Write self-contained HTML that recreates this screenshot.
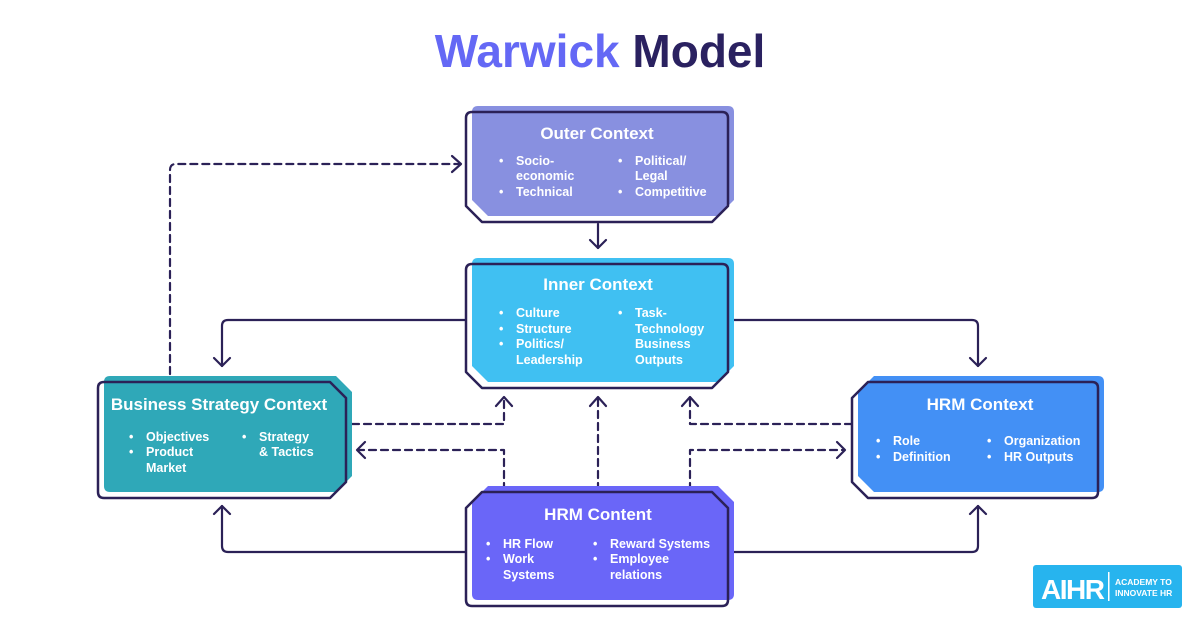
<!DOCTYPE html>
<html><head><meta charset="utf-8"><style>
html,body{margin:0;padding:0;background:#fff;}
svg{display:block;}
.t{font-family:"Liberation Sans",sans-serif;font-weight:bold;fill:#fff;font-size:17px;text-anchor:middle;}
.i{font-family:"Liberation Sans",sans-serif;fill:#fff;font-size:12.5px;font-weight:bold;}
</style></head><body>
<svg width="1200" height="627" viewBox="0 0 1200 627" xmlns="http://www.w3.org/2000/svg">
<text x="600" y="67" text-anchor="middle" font-family="Liberation Sans,sans-serif" font-weight="bold" font-size="46"><tspan fill="#6468f5">Warwick</tspan> <tspan fill="#2a2160">Model</tspan></text>

<g fill="none" stroke="#2b2157" stroke-width="2.2" stroke-linecap="round" stroke-linejoin="round">
<g stroke-dasharray="7,5">
<path d="M170,374 L170,170 Q170,164 176,164 L460,164"/>
<path d="M352,424 L504,424 L504,398"/>
<path d="M504,490 L504,450 L358,450"/>
<path d="M598,490 L598,398"/>
<path d="M690,490 L690,450 L844,450"/>
<path d="M852,424 L690,424 L690,398"/>
</g>
<path d="M452,156 L461,164 L452,172"/>
<path d="M496,406 L504,397 L512,406"/>
<path d="M590,406 L598,397 L606,406"/>
<path d="M682,406 L690,397 L698,406"/>
<path d="M365,442 L357,450 L365,458"/>
<path d="M837,442 L845,450 L837,458"/>
<path d="M598,224 L598,248"/><path d="M590,240 L598,248 L606,240"/>
<path d="M466,320 L228,320 Q222,320 222,326 L222,366"/><path d="M214,358 L222,366 L230,358"/>
<path d="M728,320 L972,320 Q978,320 978,326 L978,366"/><path d="M970,358 L978,366 L986,358"/>
<path d="M466,552 L228,552 Q222,552 222,546 L222,506"/><path d="M214,514 L222,506 L230,514"/>
<path d="M728,552 L972,552 Q978,552 978,546 L978,506"/><path d="M970,514 L978,506 L986,514"/>
</g>

<path d="M466,118 Q466,112 472,112 L722,112 Q728,112 728,118 L728,206 L712,222 L482,222 L466,206 Z" fill="#fff"/>
<path transform="translate(6,-6)" d="M466,118 Q466,112 472,112 L722,112 Q728,112 728,118 L728,206 L712,222 L482,222 L466,206 Z" fill="#8890e0"/>
<path d="M466,118 Q466,112 472,112 L722,112 Q728,112 728,118 L728,206 L712,222 L482,222 L466,206 Z" fill="none" stroke="#2b2157" stroke-width="2.5" stroke-linejoin="round"/>
<path d="M466,270 Q466,264 472,264 L722,264 Q728,264 728,270 L728,372 L712,388 L482,388 L466,372 Z" fill="#fff"/>
<path transform="translate(6,-6)" d="M466,270 Q466,264 472,264 L722,264 Q728,264 728,270 L728,372 L712,388 L482,388 L466,372 Z" fill="#40c0f2"/>
<path d="M466,270 Q466,264 472,264 L722,264 Q728,264 728,270 L728,372 L712,388 L482,388 L466,372 Z" fill="none" stroke="#2b2157" stroke-width="2.5" stroke-linejoin="round"/>
<path d="M98,388 Q98,382 104,382 L330,382 L346,398 L346,482 L330,498 L104,498 Q98,498 98,492 Z" fill="#fff"/>
<path transform="translate(6,-6)" d="M98,388 Q98,382 104,382 L330,382 L346,398 L346,482 L330,498 L104,498 Q98,498 98,492 Z" fill="#2fa8b8"/>
<path d="M98,388 Q98,382 104,382 L330,382 L346,398 L346,482 L330,498 L104,498 Q98,498 98,492 Z" fill="none" stroke="#2b2157" stroke-width="2.5" stroke-linejoin="round"/>
<path d="M868,382 L1092,382 Q1098,382 1098,388 L1098,492 Q1098,498 1092,498 L868,498 L852,482 L852,398 Z" fill="#fff"/>
<path transform="translate(6,-6)" d="M868,382 L1092,382 Q1098,382 1098,388 L1098,492 Q1098,498 1092,498 L868,498 L852,482 L852,398 Z" fill="#4390f5"/>
<path d="M868,382 L1092,382 Q1098,382 1098,388 L1098,492 Q1098,498 1092,498 L868,498 L852,482 L852,398 Z" fill="none" stroke="#2b2157" stroke-width="2.5" stroke-linejoin="round"/>
<path d="M482,492 L712,492 L728,508 L728,600 Q728,606 722,606 L472,606 Q466,606 466,600 L466,508 Z" fill="#fff"/>
<path transform="translate(6,-6)" d="M482,492 L712,492 L728,508 L728,600 Q728,606 722,606 L472,606 Q466,606 466,600 L466,508 Z" fill="#6a66f8"/>
<path d="M482,492 L712,492 L728,508 L728,600 Q728,606 722,606 L472,606 Q466,606 466,600 L466,508 Z" fill="none" stroke="#2b2157" stroke-width="2.5" stroke-linejoin="round"/>

<text class="t" x="597" y="139">Outer Context</text>
<g class="i">
<text x="499" y="165">•</text><text x="516" y="165">Socio-</text>
<text x="516" y="180">economic</text>
<text x="499" y="196">•</text><text x="516" y="196">Technical</text>
<text x="618" y="165">•</text><text x="635" y="165">Political/</text>
<text x="635" y="180">Legal</text>
<text x="618" y="196">•</text><text x="635" y="196">Competitive</text>
</g>
<text class="t" x="598" y="290">Inner Context</text>
<g class="i">
<text x="499" y="317">•</text><text x="516" y="317">Culture</text>
<text x="499" y="333">•</text><text x="516" y="333">Structure</text>
<text x="499" y="348">•</text><text x="516" y="348">Politics/</text>
<text x="516" y="364">Leadership</text>
<text x="618" y="317">•</text><text x="635" y="317">Task-</text>
<text x="635" y="333">Technology</text>
<text x="635" y="348">Business</text>
<text x="635" y="364">Outputs</text>
</g>
<text class="t" x="219" y="410">Business Strategy Context</text>
<g class="i">
<text x="129" y="441">•</text><text x="146" y="441">Objectives</text>
<text x="129" y="456">•</text><text x="146" y="456">Product</text>
<text x="146" y="472">Market</text>
<text x="242" y="441">•</text><text x="259" y="441">Strategy</text>
<text x="259" y="456">&amp; Tactics</text>
</g>
<text class="t" x="980" y="410">HRM Context</text>
<g class="i">
<text x="876" y="445">•</text><text x="893" y="445">Role</text>
<text x="876" y="461">•</text><text x="893" y="461">Definition</text>
<text x="987" y="445">•</text><text x="1004" y="445">Organization</text>
<text x="987" y="461">•</text><text x="1004" y="461">HR Outputs</text>
</g>
<text class="t" x="598" y="520">HRM Content</text>
<g class="i">
<text x="486" y="548">•</text><text x="503" y="548">HR Flow</text>
<text x="486" y="563">•</text><text x="503" y="563">Work</text>
<text x="503" y="579">Systems</text>
<text x="593" y="548">•</text><text x="610" y="548">Reward Systems</text>
<text x="593" y="563">•</text><text x="610" y="563">Employee</text>
<text x="610" y="579">relations</text>
</g>

<rect x="1033" y="565" width="149" height="43" rx="3" fill="#27b4ee"/>
<text x="1041" y="599" font-family="Liberation Sans,sans-serif" font-weight="bold" font-size="28" fill="#fff" letter-spacing="-1.5">AIHR</text>
<rect x="1108" y="572" width="1.5" height="29" fill="#fff"/>
<text x="1115" y="585" font-family="Liberation Sans,sans-serif" font-weight="bold" font-size="8.5" fill="#fff">ACADEMY TO</text>
<text x="1115" y="596" font-family="Liberation Sans,sans-serif" font-weight="bold" font-size="8.5" fill="#fff">INNOVATE HR</text>
</svg>
</body></html>
